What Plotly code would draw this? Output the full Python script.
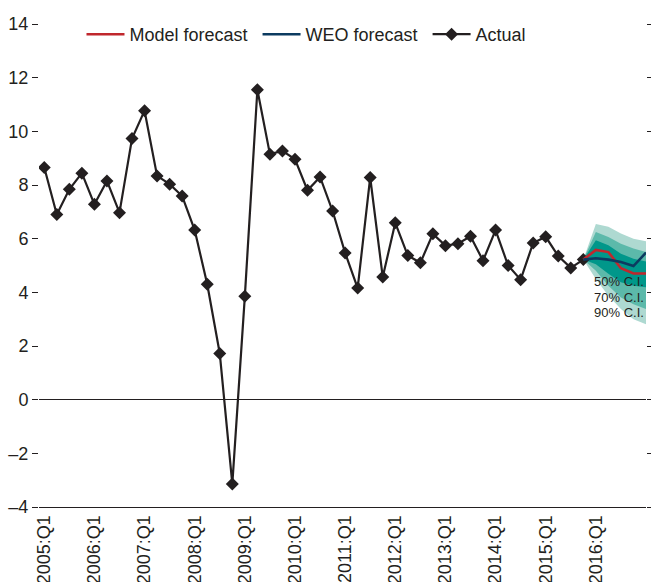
import plotly.graph_objects as go

# ---------------- data ----------------
years = list(range(2005, 2018))
quarters = [f"{y}:Q{q}" for y in years for q in range(1, 5)][:49]  # 2005:Q1 .. 2017:Q1

actual = [8.65, 6.90, 7.84, 8.44,
          7.28, 8.15, 6.97, 9.73,
          10.77, 8.34, 8.03, 7.59,
          6.32, 4.30, 1.72, -3.14,
          3.85, 11.55, 9.15, 9.27,
          8.96, 7.80, 8.30, 7.03,
          5.47, 4.16, 8.28, 4.57,
          6.59, 5.37, 5.10, 6.18,
          5.74, 5.81, 6.09, 5.18,
          6.32, 5.00, 4.47, 5.84,
          6.07, 5.35, 4.91, 5.22]

fc_quarters = ["2015:Q4", "2016:Q1", "2016:Q2", "2016:Q3", "2016:Q4", "2017:Q1"]
model_fc = [5.22, 5.58, 5.50, 4.90, 4.70, 4.70]
weo_fc = [5.22, 5.27, 5.22, 5.13, 4.98, 5.48]

ci90_up = [5.22, 6.55, 6.44, 6.19, 6.00, 5.90]
ci90_lo = [5.22, 4.50, 3.87, 3.38, 3.00, 2.81]
ci70_up = [5.22, 6.25, 6.06, 5.81, 5.63, 5.50]
ci70_lo = [5.22, 4.80, 4.25, 3.81, 3.56, 3.38]
ci50_up = [5.22, 5.94, 5.75, 5.44, 5.25, 5.15]
ci50_lo = [5.22, 5.05, 4.69, 4.38, 4.25, 4.19]

tick_labels = [f"{y}:Q1" for y in range(2005, 2017)]
ytick_vals = list(range(-4, 16, 2))
ytick_text = [("\u2013" + str(-v)) if v < 0 else str(v) for v in ytick_vals]

ci_labels = ["50% C.I.", "70% C.I.", "90% C.I."]
ci_label_y = [4.4, 3.8, 3.25]

# ---------------- styles ----------------
FONT = "Liberation Sans, Arial, sans-serif"
TXT = "#231f20"
RED = "#c0272d"
BLUE = "#0c3b60"
BLACK = "#231f20"
C90 = "#aed9d1"
C70 = "#5cb9aa"
C50 = "#00978a"
PAD = "\u00a0"

fig = go.Figure()

for lo, up, col in [(ci90_lo, ci90_up, C90), (ci70_lo, ci70_up, C70), (ci50_lo, ci50_up, C50)]:
    fig.add_trace(go.Scatter(x=fc_quarters, y=lo, mode="lines", line=dict(width=0, color=col),
                             showlegend=False, hoverinfo="skip"))
    fig.add_trace(go.Scatter(x=fc_quarters, y=up, mode="lines", line=dict(width=0, color=col),
                             fill="tonexty", fillcolor=col, showlegend=False, hoverinfo="skip"))

fig.add_trace(go.Scatter(x=quarters[:len(actual)], y=actual, mode="lines+markers", name="Actual",
                         line=dict(color=BLACK, width=2.2),
                         marker=dict(symbol="diamond", size=10, color=BLACK),
                         legendrank=3))
fig.add_trace(go.Scatter(x=fc_quarters, y=model_fc, mode="lines", name="Model forecast" + PAD,
                         line=dict(color=RED, width=2.6), legendrank=1))
fig.add_trace(go.Scatter(x=fc_quarters, y=weo_fc, mode="lines", name="WEO forecast" + PAD,
                         line=dict(color=BLUE, width=2.6), legendrank=2))

for t, yv in zip(ci_labels, ci_label_y):
    fig.add_annotation(xref="paper", yref="y", x=1.0, y=yv, xanchor="right", yanchor="middle",
                       text=t, showarrow=False, font=dict(size=13, color=TXT, family=FONT))

fig.update_layout(
    width=651, height=582,
    margin=dict(l=39, r=5, t=24, b=75),
    paper_bgcolor="white", plot_bgcolor="white",
    font=dict(family=FONT, size=18, color=TXT),
    showlegend=True,
    legend=dict(orientation="h", x=0.07, y=1.0166, xanchor="left", yanchor="top",
                traceorder="normal",
                font=dict(size=18, color=TXT, family=FONT), bgcolor="rgba(0,0,0,0)",
                itemwidth=38, tracegroupgap=0),
    xaxis=dict(type="category", categoryorder="array", categoryarray=quarters,
               range=[-0.42, 48.0], tickmode="array", tickvals=tick_labels, ticktext=tick_labels,
               tickangle=-90, ticks="", showgrid=False, zeroline=False, automargin=False,
               showline=True, linecolor=BLACK, linewidth=1,
               tickfont=dict(size=18, family=FONT, color=TXT)),
    yaxis=dict(range=[-4, 14], tickmode="array", tickvals=ytick_vals, ticktext=ytick_text,
               ticks="outside", ticklen=6, tickcolor=BLACK, tickwidth=1, mirror="ticks",
               showline=False, showgrid=False, automargin=False,
               zeroline=True, zerolinecolor=BLACK, zerolinewidth=1,
               tickfont=dict(size=18, family=FONT, color=TXT)),
)

fig.write_html("out.html", config={"displayModeBar": False},
               post_script="document.body.style.margin='0';")
